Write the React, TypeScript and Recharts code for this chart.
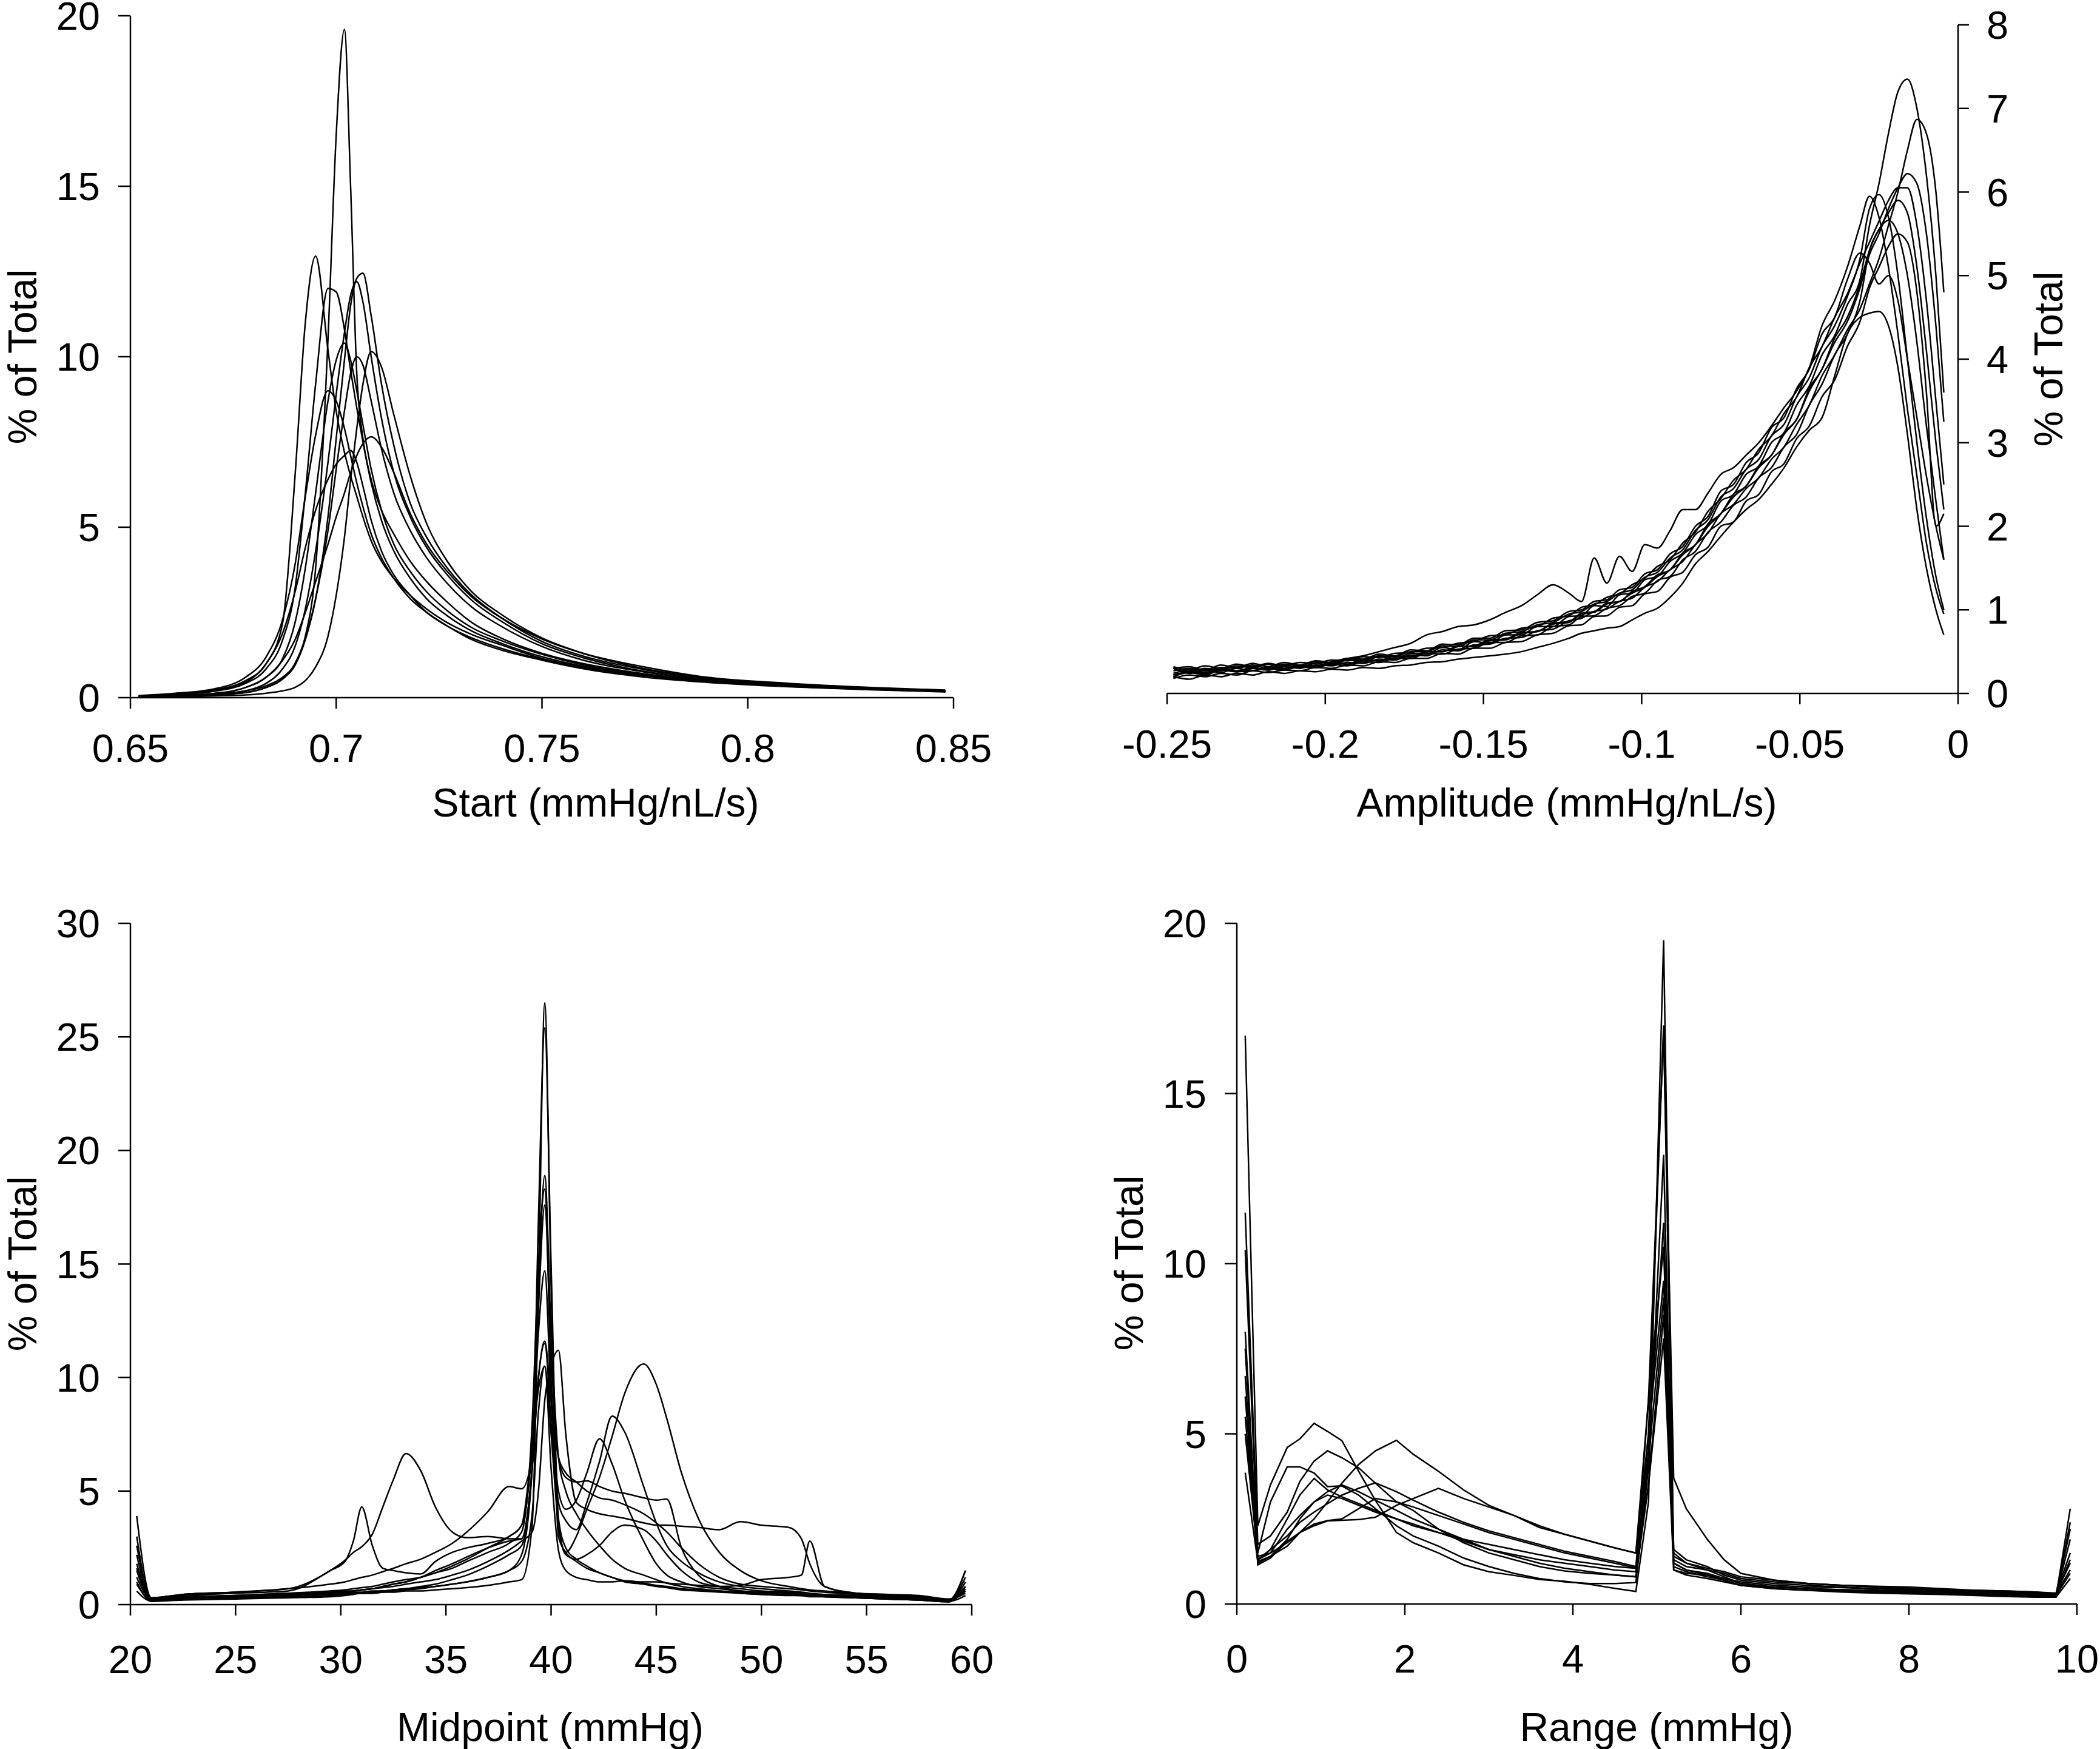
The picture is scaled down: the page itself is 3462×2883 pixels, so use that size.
import React from 'react';
import { LineChart, Line, XAxis, YAxis } from 'recharts';

const FONT = '"Liberation Sans", Arial, Helvetica, sans-serif';

// ---------- Panel A: Start (mmHg/nL/s) ----------
const startX = [0.652,0.66,0.67,0.678,0.683,0.687,0.69,0.6925,0.695,0.698,0.7,0.702,0.7035,0.705,0.7065,0.7085,0.711,0.714,0.718,0.722,0.727,0.733,0.74,0.75,0.76,0.775,0.79,0.81,0.83,0.848];
const startA = [0.02,0.05,0.1,0.2,0.35,0.6,1.0,1.8,3.8,10.5,16.5,19.6,15,9.5,7.6,6.4,5.5,4.8,4.0,3.4,2.8,2.2,1.75,1.3,1.0,0.7,0.5,0.35,0.25,0.2];
const startB = [0.05,0.1,0.22,0.5,1.0,2.2,6.5,11.0,12.95,10.2,8.4,7.2,6.5,5.9,5.3,4.6,4.0,3.5,3.0,2.6,2.2,1.85,1.55,1.15,0.9,0.65,0.48,0.34,0.25,0.18];
const startC = [0.04,0.08,0.18,0.42,0.85,1.7,3.2,6.0,9.2,12.0,11.9,10.8,9.6,8.5,7.5,6.3,5.2,4.3,3.5,2.9,2.4,1.95,1.6,1.2,0.92,0.66,0.48,0.34,0.25,0.18];
const startD = [0.02,0.04,0.08,0.15,0.3,0.55,0.95,1.7,2.9,5.3,7.6,9.9,11.5,12.3,12.45,11.2,9.2,7.4,5.7,4.7,3.8,3.0,2.35,1.65,1.22,0.82,0.56,0.4,0.28,0.2];
const startE = [0.02,0.04,0.08,0.2,0.42,0.85,1.5,2.6,4.3,6.9,8.9,10.7,11.8,12.2,11.6,10.0,8.2,6.6,5.3,4.4,3.6,2.85,2.25,1.58,1.17,0.77,0.53,0.38,0.26,0.2];
const startF = [0.03,0.06,0.12,0.3,0.6,1.15,2.2,3.8,6.0,8.7,9.9,10.4,9.9,9.0,8.0,6.7,5.5,4.5,3.7,3.1,2.55,2.05,1.68,1.27,0.96,0.68,0.5,0.35,0.25,0.19];
const startG = [0.02,0.04,0.08,0.15,0.3,0.55,1.0,1.75,2.9,4.9,6.7,8.4,9.5,10.0,9.75,8.7,7.3,6.0,4.9,4.1,3.35,2.65,2.1,1.5,1.1,0.75,0.52,0.37,0.26,0.2];
const startH = [0.01,0.02,0.05,0.08,0.13,0.2,0.3,0.5,0.9,1.8,3.0,4.7,6.4,7.9,9.2,10.15,9.7,8.3,6.5,5.1,4.0,3.1,2.45,1.75,1.3,0.85,0.58,0.4,0.28,0.2];
const startI = [0.06,0.12,0.25,0.6,1.2,2.3,3.9,5.9,7.7,9.0,8.7,7.9,7.1,6.3,5.6,4.8,4.1,3.5,2.9,2.5,2.1,1.7,1.4,1.1,0.85,0.6,0.45,0.32,0.23,0.17];
const startJ = [0.03,0.06,0.12,0.3,0.6,1.1,1.7,2.5,3.4,4.5,5.3,6.0,6.6,7.1,7.45,7.65,7.35,6.6,5.4,4.5,3.7,2.95,2.35,1.72,1.3,0.9,0.6,0.42,0.3,0.22];
const startK = [0.05,0.1,0.2,0.45,1.0,1.9,3.1,4.4,5.5,6.4,6.85,7.1,7.25,6.9,6.2,5.2,4.3,3.6,3.0,2.5,2.1,1.75,1.45,1.12,0.88,0.64,0.47,0.33,0.24,0.18];
const startXTicks = [0.65, 0.7, 0.75, 0.8, 0.85];
const startYTicks = [0, 5, 10, 15, 20];

// ---------- Panel B: Amplitude (mmHg/nL/s) ----------
const ampX = [-0.248,-0.243,-0.238,-0.233,-0.228,-0.223,-0.218,-0.213,-0.208,-0.203,
  -0.198,-0.193,-0.188,-0.183,-0.178,-0.173,-0.168,-0.163,-0.158,-0.153,
  -0.148,-0.143,-0.138,-0.133,-0.128,-0.123,
  -0.119,-0.115,-0.111,-0.107,-0.103,-0.099,-0.095,-0.091,-0.087,-0.083,-0.079,-0.075,-0.071,-0.067,-0.063,-0.059,-0.055,-0.051,-0.047,-0.043,-0.039,-0.035,-0.031,
  -0.028,-0.025,-0.022,-0.019,-0.016,-0.013,-0.01,-0.007,-0.0045];
const amp1 = [0.3,0.26,0.3,0.27,0.33,0.3,0.28,0.33,0.31,0.36,
  0.34,0.4,0.38,0.44,0.41,0.48,0.47,0.55,0.52,0.62,
  0.6,0.7,0.7,0.8,0.8,0.92,
  0.93,1.05,1.04,1.18,1.2,1.36,1.4,1.58,1.68,1.9,2.02,2.3,2.38,2.62,2.72,3.0,3.12,3.45,3.68,4.05,4.28,4.65,4.95,
  5.6,6.1,6.7,7.2,7.35,7.0,6.2,5.0,3.6];
const amp2 = [0.24,0.28,0.25,0.3,0.27,0.31,0.28,0.32,0.3,0.34,
  0.33,0.37,0.36,0.41,0.4,0.46,0.45,0.52,0.51,0.58,
  0.59,0.66,0.67,0.75,0.77,0.87,
  0.9,0.98,1.01,1.1,1.14,1.27,1.34,1.48,1.58,1.78,1.92,2.15,2.26,2.45,2.58,2.8,2.95,3.22,3.45,3.8,4.05,4.35,4.6,
  4.9,5.2,5.6,6.0,6.5,6.87,6.7,6.0,4.8];
const amp3 = [0.22,0.26,0.24,0.29,0.26,0.3,0.3,0.29,0.33,0.32,
  0.36,0.35,0.4,0.39,0.44,0.44,0.5,0.5,0.56,0.56,
  0.63,0.64,0.72,0.74,0.83,0.85,
  0.95,0.97,1.07,1.1,1.2,1.27,1.4,1.48,1.66,1.78,2.0,2.15,2.35,2.48,2.7,2.85,3.1,3.28,3.62,3.88,4.2,4.45,4.85,
  5.25,5.5,5.8,6.05,6.22,6.1,5.5,4.4,3.25];
const amp4 = [0.32,0.28,0.33,0.3,0.35,0.32,0.36,0.33,0.37,0.36,
  0.4,0.39,0.44,0.43,0.48,0.49,0.54,0.55,0.6,0.62,
  0.69,0.7,0.78,0.8,0.9,0.93,
  1.03,1.06,1.15,1.19,1.3,1.38,1.52,1.6,1.8,1.93,2.18,2.33,2.55,2.68,2.92,3.08,3.35,3.55,3.9,4.15,4.5,4.78,5.15,
  5.4,5.65,5.9,6.05,6.05,5.6,4.7,3.5,2.5];
const amp5 = [0.2,0.25,0.22,0.28,0.26,0.3,0.35,0.3,0.34,0.33,
  0.38,0.42,0.45,0.5,0.55,0.6,0.7,0.74,0.8,0.82,
  0.88,0.97,1.05,1.18,1.3,1.2,
  1.1,1.62,1.32,1.64,1.46,1.78,1.74,1.95,2.2,2.2,2.4,2.62,2.7,2.85,3.0,3.2,3.42,3.62,3.9,4.4,4.7,5.1,5.6,
  5.95,5.7,5.1,4.3,3.4,2.6,1.8,1.25,0.95];
const amp6 = [0.27,0.3,0.27,0.31,0.3,0.34,0.3,0.35,0.33,0.38,
  0.36,0.41,0.4,0.45,0.44,0.5,0.5,0.57,0.56,0.64,
  0.64,0.72,0.74,0.82,0.85,0.95,
  0.98,1.07,1.1,1.2,1.24,1.39,1.45,1.62,1.72,1.95,2.08,2.35,2.45,2.68,2.8,3.08,3.22,3.55,3.78,4.15,4.4,4.75,5.2,
  5.8,5.97,5.7,5.0,4.0,3.0,2.1,1.4,1.0];
const amp7 = [0.22,0.25,0.23,0.28,0.26,0.27,0.3,0.28,0.32,0.31,
  0.35,0.33,0.38,0.37,0.42,0.42,0.48,0.47,0.53,0.54,
  0.61,0.61,0.69,0.7,0.8,0.82,
  0.92,0.93,1.02,1.05,1.16,1.2,1.35,1.4,1.6,1.7,1.93,2.05,2.25,2.35,2.58,2.7,2.95,3.1,3.45,3.7,4.05,4.3,4.7,
  5.3,5.55,5.75,5.9,5.75,5.1,4.1,3.0,2.2];
const amp8 = [0.3,0.24,0.28,0.25,0.3,0.27,0.32,0.29,0.33,0.31,
  0.37,0.35,0.41,0.39,0.45,0.44,0.5,0.5,0.56,0.57,
  0.64,0.65,0.73,0.74,0.84,0.86,
  0.96,0.98,1.08,1.1,1.22,1.28,1.42,1.48,1.68,1.78,2.03,2.15,2.38,2.48,2.72,2.85,3.12,3.28,3.65,3.88,4.25,4.5,4.9,
  5.3,5.55,5.66,5.5,5.0,4.2,3.2,2.3,1.6];
const amp9 = [0.18,0.22,0.2,0.24,0.22,0.27,0.25,0.28,0.27,0.31,
  0.3,0.34,0.33,0.38,0.37,0.42,0.42,0.48,0.47,0.54,
  0.54,0.61,0.62,0.7,0.72,0.81,
  0.82,0.92,0.93,1.03,1.05,1.19,1.22,1.39,1.45,1.66,1.75,2.0,2.05,2.3,2.38,2.65,2.75,3.05,3.2,3.55,3.75,4.15,4.45,
  4.85,5.1,5.35,5.5,5.4,4.8,3.6,2.0,2.15];
const amp10 = [0.3,0.32,0.28,0.34,0.31,0.36,0.32,0.37,0.34,0.39,
  0.37,0.42,0.41,0.47,0.45,0.52,0.51,0.59,0.58,0.66,
  0.66,0.75,0.76,0.85,0.87,0.98,
  1.0,1.1,1.12,1.24,1.27,1.43,1.48,1.67,1.76,2.0,2.12,2.42,2.5,2.76,2.88,3.18,3.3,3.65,3.88,4.3,4.5,4.95,5.27,
  5.15,4.9,5.0,4.7,4.0,3.3,2.6,2.0,1.6];
const amp11 = [0.2,0.17,0.22,0.2,0.24,0.22,0.26,0.24,0.27,0.26,
  0.29,0.28,0.31,0.3,0.33,0.34,0.37,0.38,0.41,0.43,
  0.45,0.47,0.5,0.55,0.6,0.66,
  0.72,0.75,0.78,0.8,0.88,0.96,1.02,1.15,1.32,1.55,1.7,1.88,2.05,2.2,2.32,2.5,2.7,2.95,3.15,3.3,3.8,4.3,4.5,
  4.55,4.57,4.4,3.9,3.1,2.2,1.5,1.0,0.7];
const ampXTicks = [-0.25, -0.2, -0.15, -0.1, -0.05, 0];
const ampYTicks = [0, 1, 2, 3, 4, 5, 6, 7, 8];

// ---------- Panel C: Midpoint (mmHg) ----------
const midX = [20.3,21,22.5,25,27.5,29.5,30.2,30.6,31,31.5,32,32.5,33.1,33.8,34.5,35.3,36,37,38,38.6,39.1,39.4,39.7,40.0,40.35,40.7,41.2,41.7,42.3,42.9,43.5,44.4,45,45.5,46.2,47,48,49,50,51.3,51.9,52.3,53,54.5,56,57.5,58.9,59.7];
const mid1 = [3.0,0.2,0.3,0.35,0.4,0.45,0.45,0.5,0.5,0.5,0.55,0.55,0.6,0.6,0.65,0.7,0.75,0.85,1.0,1.1,3.5,14,26.5,14,3.0,2.3,1.9,1.6,1.4,1.2,1.0,0.9,0.8,0.75,0.65,0.6,0.55,0.5,0.45,0.42,0.4,0.38,0.35,0.3,0.25,0.2,0.12,1.5];
const mid2 = [2.2,0.25,0.35,0.4,0.45,0.5,0.5,0.55,0.55,0.6,0.6,0.65,0.7,0.75,0.8,0.9,1.0,1.2,1.5,2.2,6,17,25.4,15,3.8,2.5,2.0,1.7,1.4,1.2,1.05,0.95,0.85,0.8,0.7,0.65,0.6,0.55,0.5,0.45,0.45,0.4,0.38,0.35,0.3,0.25,0.15,1.2];
const mid3 = [1.8,0.3,0.45,0.55,0.7,0.9,1.0,1.1,1.2,1.3,1.45,1.6,1.8,2.0,2.3,2.7,3.2,4.1,5.2,5.1,6.5,14,18.9,12,6.5,5.0,4.0,3.3,2.6,2.0,1.6,1.3,1.1,0.95,0.8,0.7,0.6,0.5,0.45,0.4,0.4,0.35,0.35,0.3,0.25,0.2,0.12,0.8];
const mid4 = [1.5,0.2,0.3,0.4,0.5,0.6,0.65,0.7,0.75,0.8,0.9,1.0,1.1,1.2,1.4,1.6,1.9,2.3,2.7,3.2,8,15,18.3,10,5.0,4.2,4.6,5.8,7.3,6.2,4.6,2.8,1.8,1.3,1.0,0.8,0.7,0.6,0.55,0.5,0.45,0.42,0.4,0.35,0.3,0.25,0.15,1.0];
const mid5 = [1.2,0.25,0.3,0.35,0.4,0.5,0.55,0.6,0.65,0.7,0.8,0.9,1.0,1.2,1.4,1.7,2.0,2.5,3.0,3.5,7,12,14.7,9,4.5,3.7,3.3,4.5,6.3,8.3,7.6,5.2,3.6,2.6,1.9,1.4,1.0,0.8,0.7,0.6,0.55,0.5,0.45,0.4,0.35,0.3,0.2,0.6];
const mid6 = [0.9,0.2,0.3,0.35,0.4,0.5,0.55,0.6,0.65,0.7,0.8,0.9,1.0,1.2,1.5,1.8,2.1,2.5,2.8,2.9,6,10,11.5,8,3.6,2.3,3.0,4.2,5.6,7.4,9.3,10.6,9.7,8.2,5.8,3.8,2.3,1.5,1.05,0.8,0.7,0.65,0.6,0.5,0.45,0.4,0.25,0.5];
const mid7 = [3.9,0.3,0.45,0.55,0.7,1.5,1.95,2.3,2.55,3.1,4.3,5.5,6.65,5.9,4.3,3.2,2.95,3.0,2.9,2.9,6,10,11.6,9,6.5,5.8,5.4,5.0,4.7,4.6,4.4,4.0,3.6,3.2,2.5,1.8,1.2,0.9,0.8,0.7,0.65,0.6,0.55,0.45,0.4,0.3,0.2,0.7];
const mid8 = [2.6,0.3,0.4,0.5,0.6,1.5,1.9,2.8,4.3,2.6,1.6,1.5,1.4,1.35,1.9,2.3,2.5,2.7,3.0,3.5,7,9.5,10.5,7.5,3.5,2.2,2.0,2.2,2.6,3.2,3.5,3.3,2.8,2.2,1.5,1.0,0.8,0.7,0.6,0.55,0.5,0.45,0.42,0.4,0.35,0.3,0.2,1.5];
const mid9 = [1.6,0.2,0.3,0.4,0.5,0.55,0.6,0.6,0.65,0.7,0.75,0.8,0.9,1.0,1.1,1.3,1.5,1.9,2.4,2.8,3.2,5,9,10.5,11.2,7.5,4.5,4.2,4.0,3.9,3.8,3.6,3.5,3.5,3.45,3.4,3.3,3.65,3.5,3.4,2.9,1.8,0.8,0.5,0.4,0.35,0.2,0.8];
const mid10 = [1.0,0.15,0.25,0.3,0.35,0.4,0.45,0.5,0.5,0.55,0.6,0.65,0.7,0.8,0.9,1.1,1.3,1.7,2.2,2.6,6,13,17.6,11,6.5,5.6,5.4,5.45,5.2,5.0,4.9,4.7,4.6,4.65,2.5,1.3,0.8,0.6,0.5,0.45,0.4,0.4,0.35,0.3,0.25,0.2,0.15,0.4];
const mid11 = [0.6,0.15,0.2,0.25,0.3,0.35,0.4,0.45,0.5,0.5,0.55,0.6,0.65,0.7,0.8,0.9,1.0,1.2,1.5,1.9,4,8.5,10.5,6,2.4,1.5,1.2,1.1,1.0,1.0,1.05,1.0,1.0,0.95,0.9,0.85,0.8,0.85,1.1,1.2,1.3,2.8,0.8,0.5,0.4,0.3,0.2,0.6];
const midXTicks = [20, 25, 30, 35, 40, 45, 50, 55, 60];
const midYTicks = [0, 5, 10, 15, 20, 25, 30];

// ---------- Panel D: Range (mmHg) ----------
const rangeX = [0.1,0.25,0.4,0.6,0.75,0.92,1.08,1.25,1.45,1.65,1.9,2.1,2.4,2.7,3.0,3.3,3.6,3.9,4.2,4.5,4.75,4.9,5.08,5.2,5.35,5.6,5.8,6.0,6.4,6.8,7.2,7.6,8.0,8.4,8.8,9.2,9.5,9.75,9.92];
const range1 = [16.7,2.3,3.5,4.6,4.85,5.31,5.07,4.8,3.9,3.04,2.1,1.8,1.5,1.15,0.95,0.84,0.72,0.67,0.58,0.46,0.37,3.0,19.5,1.2,1.0,0.85,0.7,0.55,0.45,0.4,0.35,0.32,0.3,0.28,0.25,0.22,0.2,0.2,2.8];
const range2 = [11.5,1.75,2.0,2.7,3.6,4.2,4.5,4.3,4.0,3.55,3.0,2.75,2.2,1.8,1.5,1.3,1.1,0.97,0.9,0.85,0.8,5,17,1.5,1.2,1.0,0.8,0.6,0.5,0.45,0.4,0.38,0.35,0.3,0.28,0.25,0.25,0.22,2.4];
const range3 = [10.4,1.5,3.0,4.03,4.03,3.85,3.45,3.47,3.2,2.8,2.3,2.0,1.7,1.35,1.1,0.9,0.75,0.65,0.6,0.6,0.63,4,13.2,1.1,0.95,0.8,0.7,0.55,0.5,0.45,0.42,0.4,0.35,0.32,0.3,0.28,0.25,0.25,1.9];
const range4 = [8.0,1.3,1.6,2.5,3.2,3.69,3.35,3.15,2.95,2.75,2.5,2.35,2.1,1.85,1.6,1.45,1.3,1.2,1.1,1.0,0.95,4.5,11.2,1.6,1.3,1.1,0.85,0.7,0.6,0.55,0.5,0.45,0.4,0.38,0.35,0.32,0.3,0.28,2.2];
const range5 = [7.5,1.2,1.4,1.7,2.1,2.5,3.0,3.55,4.1,4.5,4.81,4.4,3.9,3.35,2.9,2.6,2.25,2.05,1.85,1.65,1.5,6,10.5,1.4,1.2,1.05,0.95,0.8,0.7,0.6,0.55,0.5,0.45,0.42,0.4,0.35,0.33,0.3,1.5];
const range6 = [6.7,1.15,1.35,1.84,2.1,2.3,2.44,2.46,2.48,2.55,2.9,3.1,3.4,3.1,2.85,2.6,2.3,2.05,1.85,1.65,1.5,5,9.5,1.3,1.1,1.0,0.9,0.75,0.65,0.6,0.55,0.52,0.5,0.45,0.4,0.38,0.35,0.32,1.2];
const range7 = [6.1,1.3,1.6,2.0,2.4,2.7,2.95,3.2,3.4,3.56,3.3,3.05,2.7,2.4,2.15,1.95,1.75,1.55,1.4,1.25,1.1,4.2,9.0,1.0,0.9,0.85,0.75,0.65,0.55,0.5,0.48,0.45,0.42,0.4,0.38,0.35,0.32,0.3,1.0];
const range8 = [5.5,1.3,1.5,1.8,2.1,2.35,2.45,2.5,2.8,3.1,3.0,2.85,2.6,2.35,2.1,1.9,1.7,1.5,1.35,1.2,1.06,3.5,8.5,1.2,1.0,0.9,0.75,0.6,0.5,0.45,0.42,0.4,0.38,0.35,0.32,0.3,0.28,0.25,0.9];
const range9 = [3.86,1.25,1.4,1.9,2.5,3.0,3.3,3.5,3.3,3.05,2.75,2.5,2.2,1.9,1.6,1.4,1.2,1.05,0.95,0.85,0.8,3.5,7.8,1.0,0.85,0.75,0.65,0.55,0.45,0.4,0.38,0.35,0.32,0.3,0.28,0.25,0.22,0.2,0.75];
const range10 = [5.0,1.4,1.5,2.2,2.6,3.0,3.2,3.1,2.9,2.7,2.5,2.3,2.1,1.9,1.75,1.6,1.45,1.3,1.2,1.1,1.05,6,16.8,3.7,2.8,1.9,1.3,0.9,0.7,0.6,0.55,0.5,0.45,0.42,0.4,0.38,0.35,0.3,1.3];
const rangeXTicks = [0, 2, 4, 6, 8, 10];
const rangeYTicks = [0, 5, 10, 15, 20];

function buildRows(xs: number[], series: number[][]) {
  return xs.map((x, i) => {
    const row: Record<string, number> = { x };
    series.forEach((s, k) => {
      row['s' + k] = s[i];
    });
    return row;
  });
}

type PanelProps = {
  left: number;
  top: number;
  width: number;
  height: number;
  margin: { top: number; right: number; bottom: number; left: number };
  xs: number[];
  series: number[][];
  curve: 'monotone' | 'linear';
  xDomain: [number, number];
  xTicks: number[];
  yDomain: [number, number];
  yTicks: number[];
  yRight?: boolean;
  yWidth: number;
  xHeight: number;
  xTickMargin: number;
  xTitle: string;
  xTitlePos: [number, number];
  yTitlePos: [number, number];
};

const TICK_FONT = 65;
const TITLE_FONT = 66;
const STROKE = 2.5;

function Panel(p: PanelProps) {
  const data = buildRows(p.xs, p.series);
  const tickStyle = { fontSize: TICK_FONT, fill: '#000', fontFamily: FONT };
  const lineStyle = { stroke: '#000', strokeWidth: STROKE };
  const xTitle = () => (
    <text
      x={p.xTitlePos[0]}
      y={p.xTitlePos[1]}
      textAnchor="middle"
      fontSize={TITLE_FONT}
      fontFamily={FONT}
      fill="#000"
    >
      {p.xTitle}
    </text>
  );
  const yTitle = () => (
    <text
      transform={`translate(${p.yTitlePos[0]},${p.yTitlePos[1]}) rotate(-90)`}
      textAnchor="middle"
      dy="0.36em"
      fontSize={TITLE_FONT}
      fontFamily={FONT}
      fill="#000"
    >
      % of Total
    </text>
  );
  return (
    <div style={{ position: 'absolute', left: p.left, top: p.top, width: p.width, height: p.height }}>
      <LineChart width={p.width} height={p.height} data={data} margin={p.margin} style={{ overflow: 'visible' }}>
        <XAxis
          dataKey="x"
          type="number"
          domain={p.xDomain}
          ticks={p.xTicks}
          interval={0}
          height={p.xHeight}
          tick={tickStyle}
          tickSize={18}
          tickMargin={p.xTickMargin}
          axisLine={lineStyle}
          tickLine={lineStyle}
          allowDataOverflow
          label={xTitle}
        />
        <YAxis
          type="number"
          orientation={p.yRight ? 'right' : 'left'}
          domain={p.yDomain}
          ticks={p.yTicks}
          interval={0}
          width={p.yWidth}
          tick={tickStyle}
          tickSize={p.yRight ? 18 : 20}
          tickMargin={p.yRight ? 29 : 30}
          axisLine={lineStyle}
          tickLine={lineStyle}
          allowDataOverflow
          label={yTitle}
        />
        {p.series.map((_, k) => (
          <Line
            key={k}
            dataKey={'s' + k}
            type={p.curve}
            stroke="#000"
            strokeWidth={2.5}
            dot={false}
            activeDot={false}
            isAnimationActive={false}
          />
        ))}
      </LineChart>
    </div>
  );
}

export default function App() {
  return (
    <div
      style={{
        position: 'absolute',
        left: 0,
        top: 0,
        width: 3462,
        height: 2883,
        background: '#fff',
        overflow: 'hidden',
      }}
    >
      <Panel
        left={0}
        top={0}
        width={1731}
        height={1441}
        margin={{ top: 26, right: 159, bottom: 41, left: 0 }}
        xs={startX}
        series={[startA, startB, startC, startD, startE, startF, startG, startH, startI, startJ, startK]}
        curve="monotone"
        xDomain={[0.65, 0.85]}
        xTicks={startXTicks}
        yDomain={[0, 20]}
        yTicks={startYTicks}
        yWidth={215}
        xHeight={250}
        xTickMargin={42}
        xTitle="Start (mmHg/nL/s)"
        xTitlePos={[982, 1346]}
        yTitlePos={[36, 588]}
      />
      <Panel
        left={1731}
        top={0}
        width={1731}
        height={1441}
        margin={{ top: 41, right: 0, bottom: 48, left: 193 }}
        xs={ampX}
        series={[amp1, amp2, amp3, amp4, amp5, amp6, amp7, amp8, amp9, amp10, amp11]}
        curve="monotone"
        xDomain={[-0.25, 0]}
        xTicks={ampXTicks}
        yDomain={[0, 8]}
        yTicks={ampYTicks}
        yRight
        yWidth={234}
        xHeight={250}
        xTickMargin={42}
        xTitle="Amplitude (mmHg/nL/s)"
        xTitlePos={[852, 1346]}
        yTitlePos={[1645, 592]}
      />
      <Panel
        left={0}
        top={1441}
        width={1731}
        height={1442}
        margin={{ top: 81, right: 129, bottom: 18, left: 0 }}
        xs={midX}
        series={[mid1, mid2, mid3, mid4, mid5, mid6, mid7, mid8, mid9, mid10, mid11]}
        curve="monotone"
        xDomain={[20, 60]}
        xTicks={midXTicks}
        yDomain={[0, 30]}
        yTicks={midYTicks}
        yWidth={215}
        xHeight={220}
        xTickMargin={49}
        xTitle="Midpoint (mmHg)"
        xTitlePos={[907, 1429]}
        yTitlePos={[36, 642]}
      />
      <Panel
        left={1731}
        top={1441}
        width={1731}
        height={1442}
        margin={{ top: 81, right: 38, bottom: 19, left: 0 }}
        xs={rangeX}
        series={[range1, range2, range3, range4, range5, range6, range7, range8, range9, range10]}
        curve="linear"
        xDomain={[0, 10]}
        xTicks={rangeXTicks}
        yDomain={[0, 20]}
        yTicks={rangeYTicks}
        yWidth={308}
        xHeight={220}
        xTickMargin={49}
        xTitle="Range (mmHg)"
        xTitlePos={[1000, 1429]}
        yTitlePos={[129, 641]}
      />
    </div>
  );
}
